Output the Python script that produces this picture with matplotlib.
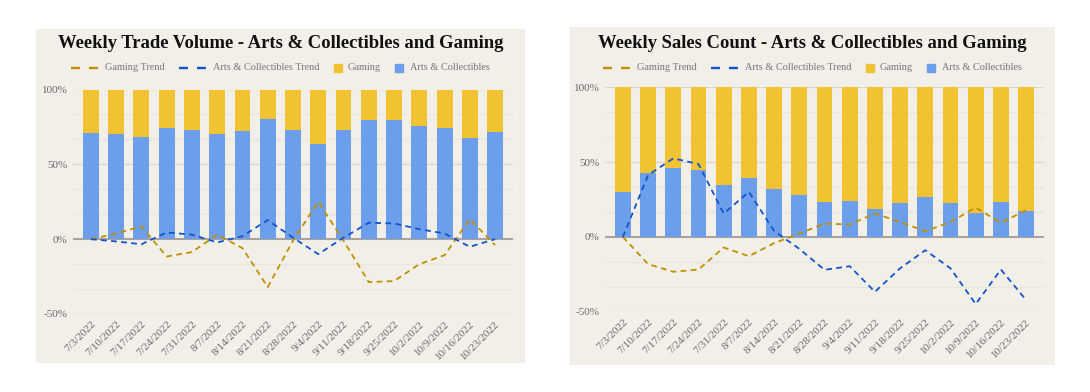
import matplotlib.pyplot as plt
import numpy as np
from matplotlib.lines import Line2D
from matplotlib.patches import Rectangle
from matplotlib.offsetbox import DrawingArea, TextArea, HPacker, AnchoredOffsetbox

# --- Данные ---
weeks = ["7/3/2022", "7/10/2022", "7/17/2022", "7/24/2022", "7/31/2022", "8/7/2022",
         "8/14/2022", "8/21/2022", "8/28/2022", "9/4/2022", "9/11/2022", "9/18/2022",
         "9/25/2022", "10/2/2022", "10/9/2022", "10/16/2022", "10/23/2022"]

# Weekly Trade Volume, доля в %
vol_arts = [70.9, 70.5, 68.2, 74.0, 72.9, 70.0, 72.5, 80.3, 72.9, 63.8, 72.9, 79.4,
            79.4, 75.6, 74.0, 67.3, 71.8]
vol_gaming = [100 - v for v in vol_arts]
vol_gaming_trend = [0, 3.8, 8.5, -11.6, -8.6, 3.0, -6.0, -32.0, -1.0, 25.0, -1.0, -28.7,
                    -28.0, -16.7, -10.7, 13.4, -4.0]
vol_arts_trend = [0, -1.5, -3.4, 4.5, 3.0, -2.2, 2.0, 12.8, 1.0, -10.0, 1.0, 11.0,
                  10.5, 6.7, 3.8, -5.1, 0.0]

# Weekly Sales Count, доля в %
cnt_arts = [30.1, 42.4, 46.2, 44.6, 34.8, 39.1, 31.9, 28.1, 23.2, 23.9, 18.8, 22.8,
            27.0, 22.8, 16.1, 23.2, 17.2]
cnt_gaming = [100 - v for v in cnt_arts]
cnt_gaming_trend = [0, -18.2, -23.3, -21.8, -7.1, -12.9, -4.2, 2.2, 8.9, 8.3, 15.6, 10.0,
                    3.8, 10.0, 19.6, 9.4, 17.9]
cnt_arts_trend = [0, 41.3, 52.5, 48.7, 15.6, 30.1, 4.0, -8.0, -22.0, -19.6, -36.7, -21.0,
                  -8.9, -21.0, -44.9, -21.8, -42.2]

legend_labels = ["Gaming Trend", "Arts & Collectibles Trend", "Gaming", "Arts & Collectibles"]

# --- Стиль ---
BG = "#f2eee8"
BLUE = "#6d9eeb"
GOLD = "#f1c232"
GOLD_TREND = "#bf9000"
BLUE_TREND = "#1155cc"
SERIF = ["Liberation Serif", "DejaVu Serif"]

W, H = 1090, 392
fig = plt.figure(figsize=(W / 100, H / 100), dpi=100)
fig.patch.set_facecolor("white")


def px_rect(x0, y0, x1, y1):
    # пиксели (сверху вниз) -> доли фигуры
    return [x0 / W, 1 - y1 / H, (x1 - x0) / W, (y1 - y0) / H]


def dash_handle(color):
    da = DrawingArea(20, 7)
    da.add_artist(Line2D([0, 20], [3.5, 3.5], color=color, lw=1.7, dashes=(3.8, 3.8)))
    return da


def square_handle(color):
    da = DrawingArea(6, 7)
    da.add_artist(Rectangle((0, 0.5), 6, 6, color=color))
    return da


def legend_box(cx, cy):
    handles = [dash_handle(GOLD_TREND), dash_handle(BLUE_TREND),
               square_handle(GOLD), square_handle(BLUE)]
    items = []
    for h, lab in zip(handles, legend_labels):
        txt = TextArea(lab, textprops=dict(family=SERIF, size=7.4, color="#777777"))
        items.append(HPacker(children=[h, txt], sep=4.5, align="center"))
    row = HPacker(children=items, sep=10, align="center")
    box = AnchoredOffsetbox(loc="center", child=row, frameon=False, pad=0,
                            bbox_to_anchor=(cx, cy), bbox_transform=fig.transFigure)
    fig.add_artist(box)


def panel(bg_box, ax_box, title, arts, gaming, g_trend, a_trend):
    bg = fig.add_axes(px_rect(*bg_box), zorder=0)
    bg.set_facecolor(BG)
    bg.set_xticks([])
    bg.set_yticks([])
    for s in bg.spines.values():
        s.set_visible(False)

    ax = fig.add_axes(px_rect(*ax_box), zorder=1)
    ax.patch.set_alpha(0)
    x = np.arange(len(weeks))

    # сетка
    for v in np.arange(-50, 101, 50 / 3):
        major = abs(v / 50 - round(v / 50)) < 1e-6
        ax.axhline(v, color="#dcd6ce" if major else "#e9e4dd", lw=0.9, zorder=0)
    ax.axhline(0, color="#a8a29b", lw=1.4, zorder=1)

    ax.bar(x, arts, width=0.63, color=BLUE, zorder=2)
    ax.bar(x, gaming, bottom=arts, width=0.63, color=GOLD, zorder=2)
    ax.plot(x, g_trend, color=GOLD_TREND, lw=1.3, dashes=(3.2, 2.4), zorder=3)
    ax.plot(x, a_trend, color=BLUE_TREND, lw=1.3, dashes=(3.2, 2.4), zorder=3)

    ax.set_xlim(-0.71, len(weeks) - 1 + 0.71)
    ax.set_ylim(-50, 100)
    ax.set_yticks([-50, 0, 50, 100])
    ax.set_yticklabels(["-50%", "0%", "50%", "100%"])
    ax.set_xticks(x)
    ax.set_xticklabels(weeks, rotation=45, ha="right", rotation_mode="anchor")
    ax.tick_params(length=0, labelsize=8, labelcolor="#6b6b6b", pad=4)
    for lbl in ax.get_xticklabels() + ax.get_yticklabels():
        lbl.set_family(SERIF)
    for s in ax.spines.values():
        s.set_visible(False)

    cx = (bg_box[0] + bg_box[2]) / 2 / W
    fig.text(cx, 1 - 43 / H, title, ha="center", va="center", family=SERIF,
             weight="bold", fontsize=13.4, color="#111111")
    legend_box(cx, 1 - 68 / H)
    return ax


panel((36, 29, 525, 363), (73, 89.5, 513, 314),
      "Weekly Trade Volume - Arts & Collectibles and Gaming",
      vol_arts, vol_gaming, vol_gaming_trend, vol_arts_trend)
panel((570, 27, 1055, 365), (605, 87.3, 1044, 311.7),
      "Weekly Sales Count - Arts & Collectibles and Gaming",
      cnt_arts, cnt_gaming, cnt_gaming_trend, cnt_arts_trend)

fig.savefig("out.png", dpi=100, facecolor="white")
